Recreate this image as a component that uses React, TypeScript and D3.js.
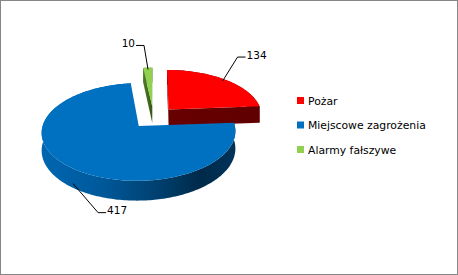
import React from "react";
import * as d3 from "d3";

const categories = ["Pożar", "Miejscowe zagrożenia", "Alarmy fałszywe"];
const values = [134, 417, 10];
const topColors = ["#FF0000", "#0070C0", "#92D050"];
const sideStops: [number, string][][] = [
  [[0, "#680000"], [1, "#600000"]],
  [[0, "#0066B0"], [0.3, "#00599C"], [0.6, "#00406F"], [0.82, "#002A4A"], [1, "#003459"]],
  [[0, "#4F7D26"], [1, "#35561A"]],
];
const labelElbows: [number, number][] = [[15, -24], [25, 29], [-4, -24]];
const labelSides = [1, 1, -1];

const W = 458;
const H = 275;
const CX = 153.5;
const CY = 117.3;
const RX = 94;
const RY = 46;
const PERSP = 0.12;
const DEPTH = 17;
const EXPLODE = 0.24;

function project(X: number, Z: number, t: number): [number, number] {
  const k = 1 / (1 + PERSP * Z);
  return [CX + RX * X * k, CY - RY * Z * k + DEPTH * t * k];
}

const lineGen = d3.line<[number, number]>();

function polyPath(pts: [number, number][]) {
  return (lineGen(pts) || "") + "Z";
}

function signedArea(pts: [number, number][]) {
  let s = 0;
  for (let i = 0; i < pts.length; i++) {
    const a = pts[i];
    const b = pts[(i + 1) % pts.length];
    s += a[0] * b[1] - b[0] * a[1];
  }
  return s;
}

export default function App() {
  const arcs = d3.pie<number>().sort(null).value((d) => d)(values);

  const slices = arcs.map((a, i) => {
    const a0 = a.startAngle;
    const a1 = a.endAngle;
    const mid = (a0 + a1) / 2;
    const ox = EXPLODE * Math.sin(mid);
    const oz = EXPLODE * Math.cos(mid);
    const pt = (r: number, th: number, t: number) =>
      project(ox + r * Math.sin(th), oz + r * Math.cos(th), t);
    const n = Math.max(2, Math.ceil((a1 - a0) / 0.02));
    const angles = d3.range(n + 1).map((j) => a0 + ((a1 - a0) * j) / n);
    const topArc = angles.map((th) => pt(1, th, 0));
    const botArc = angles.map((th) => pt(1, th, 1)).reverse();
    const apexT = pt(0, 0, 0);
    const apexB = pt(0, 0, 1);
    const top = polyPath([apexT, ...topArc]);
    const wallPts = [...topArc, ...botArc];
    const wall = polyPath(wallPts);
    const endFace: [number, number][] = [apexT, pt(1, a1, 0), pt(1, a1, 1), apexB];
    const startFace: [number, number][] = [apexT, apexB, pt(1, a0, 1), pt(1, a0, 0)];
    const faces: string[] = [];
    if (signedArea(startFace) > 0) faces.push(polyPath(startFace));
    if (signedArea(endFace) > 0) faces.push(polyPath(endFace));
    const xs = wallPts.map((p) => p[0]).concat([apexT[0]]);
    const x1 = d3.min(xs) as number;
    const x2 = d3.max(xs) as number;
    // label anchor
    const front = Math.cos(mid) < 0;
    const anchor = pt(0.95, mid, front ? 1 : 0);
    const elbow: [number, number] = [anchor[0] + labelElbows[i][0], anchor[1] + labelElbows[i][1]];
    const end: [number, number] = [elbow[0] + 8 * labelSides[i], elbow[1]];
    return { i, mid, top, wall, faces, x1, x2, anchor, elbow, end };
  });

  const order = [...slices].sort((p, q) => Math.cos(q.mid) - Math.cos(p.mid));

  return (
    <svg
      width={W}
      height={H}
      style={{ position: "fixed", left: 0, top: 0, background: "#fff" }}
      fontFamily="'DejaVu Sans', sans-serif"
    >
      <defs>
        {slices.map((s) => (
          <linearGradient
            key={s.i}
            id={`side${s.i}`}
            gradientUnits="userSpaceOnUse"
            x1={s.x1}
            x2={s.x2}
            y1={0}
            y2={0}
          >
            {sideStops[s.i].map(([o, c], j) => (
              <stop key={j} offset={o} stopColor={c} />
            ))}
          </linearGradient>
        ))}
      </defs>
      <rect x={0.5} y={0.5} width={W - 1} height={H - 1} fill="#fff" stroke="#868686" strokeWidth={1} />
      {order.map((s) => (
        <g key={s.i}>
          <path d={s.wall} fill={`url(#side${s.i})`} />
          {s.faces.map((f, j) => (
            <path key={j} d={f} fill={`url(#side${s.i})`} />
          ))}
          <path d={s.top} fill={topColors[s.i]} />
        </g>
      ))}
      {slices.map((s) => (
        <g key={"l" + s.i}>
          <polyline
            points={[s.anchor, s.elbow, s.end].map((p) => p.join(",")).join(" ")}
            fill="none"
            stroke="#000"
            strokeWidth={1}
          />
          <text
            x={s.end[0] + labelSides[s.i]}
            y={s.end[1] + 1.5}
            fontSize={10.5}
            fill="#000"
            textAnchor={labelSides[s.i] > 0 ? "start" : "end"}
          >
            {values[s.i]}
          </text>
        </g>
      ))}
      {categories.map((c, i) => (
        <g key={c} transform={`translate(297, ${97 + i * 24.5})`}>
          <rect x={0} y={0} width={7} height={7} fill={topColors[i]} />
          <text x={11} y={7.5} fontSize={10.8} fill="#000">
            {c}
          </text>
        </g>
      ))}
    </svg>
  );
}
